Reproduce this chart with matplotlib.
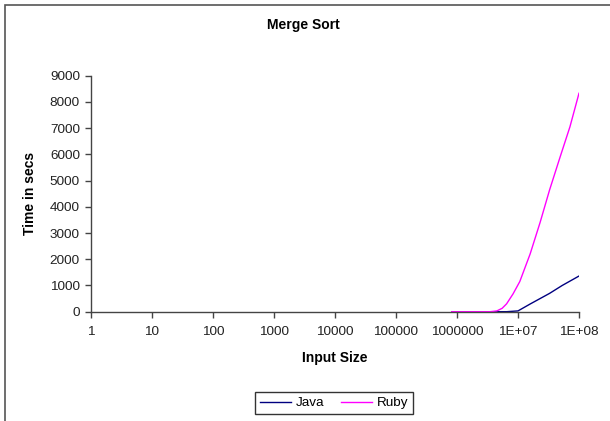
import matplotlib.pyplot as plt
from matplotlib.patches import Rectangle

# values
java_n = [8.2e5, 3.5e6, 6.5e6, 1.0e7, 1.6e7, 3.3e7, 5.3e7, 1.0e8]
java_t = [0, 0, 0, 30, 300, 700, 1000, 1360]

ruby_n = [8.2e5, 3.5e6, 4.5e6, 5.5e6, 6.5e6, 8.3e6, 1.07e7, 1.58e7, 2.3e7, 3.3e7, 4.9e7, 7.1e7, 1.0e8]
ruby_t = [0, 0, 30, 130, 300, 680, 1150, 2200, 3400, 4650, 5900, 7050, 8330]

x_ticks = [1, 10, 100, 1000, 10000, 100000, 1000000, 1e7, 1e8]
x_labels = ["1", "10", "100", "1000", "10000", "100000", "1000000", "1E+07", "1E+08"]
y_ticks = [0, 1000, 2000, 3000, 4000, 5000, 6000, 7000, 8000, 9000]

plt.rcParams['font.family'] = ['Liberation Sans', 'DejaVu Sans']

fig = plt.figure(figsize=(6.1, 4.21), dpi=100)
W, H = 610, 421

# outer chart border
fig.patches.append(Rectangle((4.5 / W, -0.1), 1.2, (H - 4.5) / H + 0.1,
                             transform=fig.transFigure, fill=False,
                             edgecolor='#555555', linewidth=1.2))

ax = fig.add_axes([91 / W, (H - 311.7) / H, (579 - 91) / W, (311.7 - 75.7) / H])

ax.plot(java_n, java_t, color='#000080', linewidth=1, label='Java')
ax.plot(ruby_n, ruby_t, color='#FF00FF', linewidth=1, label='Ruby')

ax.set_xscale('log')
ax.set_xlim(1, 1e8)
ax.set_ylim(0, 9000)
ax.set_xticks(x_ticks)
ax.set_xticklabels(x_labels)
ax.minorticks_off()
ax.set_yticks(y_ticks)

for s in ['top', 'right']:
    ax.spines[s].set_visible(False)
for s in ['left', 'bottom']:
    ax.spines[s].set_color('#444444')
    ax.spines[s].set_linewidth(1)

ax.tick_params(axis='both', direction='out', length=4, width=1, color='#444444',
               labelsize=9.7, labelcolor='#222222')
ax.tick_params(axis='x', pad=6)
ax.tick_params(axis='y', pad=4)

fig.text(303 / W, 1 - 25 / H, "Merge Sort", ha='center', va='center',
         fontsize=10, fontweight='bold')
ax.set_xlabel("Input Size", fontsize=10, fontweight='bold', labelpad=10)
ax.set_ylabel("Time in secs", fontsize=10, fontweight='bold', labelpad=9)

leg = fig.legend(loc='center', bbox_to_anchor=(334 / W, 1 - 403 / H), ncol=2,
                 fontsize=9.7, frameon=True, fancybox=False, handlelength=2.3,
                 handletextpad=0.4, columnspacing=1.2, borderpad=0.35)
leg.get_frame().set_edgecolor('black')
leg.get_frame().set_linewidth(1)

fig.savefig("out.png", dpi=100)
